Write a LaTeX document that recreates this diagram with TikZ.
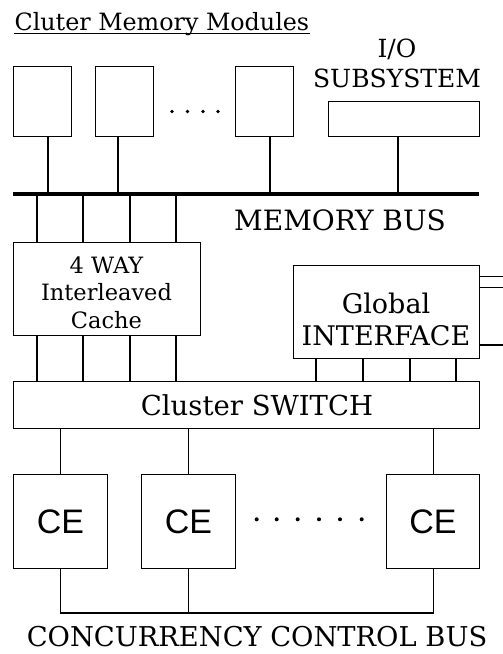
\documentclass[tikz,border=0pt]{standalone}
\usepackage{fontspec}
\setmainfont{DejaVu Serif}
\newfontfamily\cefont{Liberation Sans}

\begin{document}
\begin{tikzpicture}[x=1pt,y=-1pt,line width=1.1pt,
  box/.style={draw,inner sep=0pt,anchor=north west},
  lbl/.style={inner sep=0pt,anchor=base,align=center},
  bus/.style={line width=3.6pt},
  dot/.style={fill=black}]
\useasboundingbox (0,0) rectangle (503,654);

% title
\node[lbl,anchor=base west,font=\fontsize{23.8}{28}\selectfont] (title) at (14,30) {Cluter Memory Modules};
\draw ([yshift=-3.3pt]title.base west) -- ([yshift=-3.3pt]title.base east);

% memory modules and I/O subsystem
\node[box,minimum width=58,minimum height=70] (m1) at (13,66) {};
\node[box,minimum width=58,minimum height=70] (m2) at (95,66) {};
\node[box,minimum width=58,minimum height=70] (m3) at (235,66) {};
\node[box,minimum width=151,minimum height=35] (io) at (328,101) {};
\foreach \x in {172,187.5,203,218} \fill[dot] (\x,111.5) circle (1.8);
\node[lbl,font=\fontsize{25}{30}\selectfont] (iotext) at (397,87) {I/O\\SUBSYSTEM};

% memory bus
\coordinate (busW) at (13,194);
\coordinate (busE) at (479,194);
\draw[bus] (busW) -- (busE);
\node[lbl,font=\fontsize{28}{30}\selectfont] (membus) at (340,230) {MEMORY BUS};
\coordinate (d1) at (48,194);
\coordinate (d2) at (118,194);
\coordinate (d3) at (270,194);
\coordinate (d4) at (398,194);
\draw (m1.south -| d1) -- (d1);
\draw (m2.south -| d2) -- (d2);
\draw (m3.south -| d3) -- (d3);
\draw (io.south -| d4) -- (d4);

% cache, global interface, switch
\node[box,minimum width=187,minimum height=93] (cache) at (13,242) {};
\node[lbl,font=\fontsize{22.5}{27.5}\selectfont] (cachetext) at (106.5,328) {4 WAY\\Interleaved\\Cache};
\node[box,minimum width=186,minimum height=93] (gi) at (293,265) {};
\node[lbl,font=\fontsize{27}{32}\selectfont] (gitext) at (386,345) {Global\\INTERFACE};
\node[box,minimum width=466,minimum height=47] (sw) at (13,381) {};
\node[lbl,font=\fontsize{27.5}{30}\selectfont] (swtext) at (257,415) {Cluster SWITCH};

\foreach \x [count=\i] in {37,83,130,176} {
  \coordinate (k\i) at (\x,194);
  \draw (k\i) -- (k\i |- cache.north);
  \draw (k\i |- cache.south) -- (k\i |- sw.north);
}
\foreach \x [count=\i] in {316,363,410,456} {
  \coordinate (g\i) at (\x,381);
  \draw (g\i |- gi.south) -- (g\i);
}
\foreach \y [count=\i] in {276.7,287.7,345} {
  \coordinate (r\i) at (503,\y);
  \draw (r\i -| gi.east) -- (r\i);
}

% computing elements
\node[box,minimum width=94,minimum height=94,font=\cefont\fontsize{34}{36}\selectfont] (ce1) at (13,474) {CE};
\node[box,minimum width=94,minimum height=94,font=\cefont\fontsize{34}{36}\selectfont] (ce2) at (141,474) {CE};
\node[box,minimum width=93,minimum height=94,font=\cefont\fontsize{34}{36}\selectfont] (ce3) at (386,474) {CE};
\foreach \x in {256.7,276.7,297.7,319,340,361.7} \fill[dot] (\x,519.3) circle (2);
\foreach \c in {ce1,ce2,ce3} \draw (\c.north) -- (\c.north |- sw.south);

% concurrency control bus
\coordinate (cc) at (0,613);
\draw (ce1.south) -- (ce1.south |- cc) -- (ce3.south |- cc) -- (ce3.south);
\draw (ce2.south) -- (ce2.south |- cc);
\node[lbl,font=\fontsize{27.3}{30}\selectfont] (ccbus) at (257,646.5) {CONCURRENCY CONTROL BUS};
\end{tikzpicture}
\end{document}
